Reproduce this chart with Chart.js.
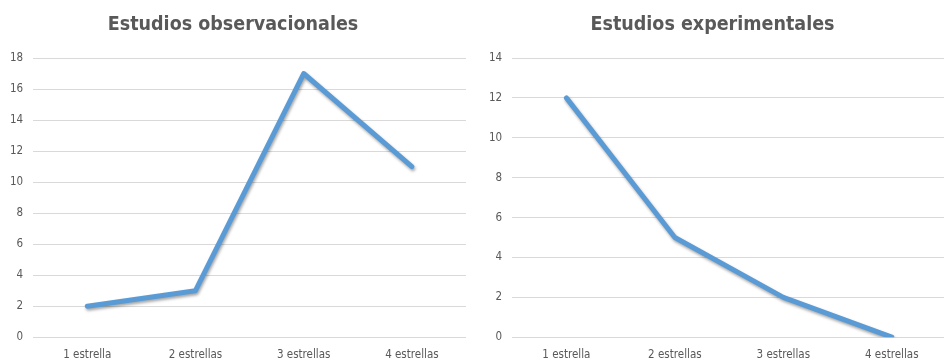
<!DOCTYPE html>
<html>
<head>
<meta charset="utf-8">
<script src="https://cdn.jsdelivr.net/npm/chart.js@4/dist/chart.umd.min.js"></script>
<style>
  html, body { margin: 0; padding: 0; background: #fff; overflow: hidden; width: 944px; height: 364px; }
  .box { position: absolute; top: 0; }
</style>
</head>
<body>
<div class="box" style="left:0"><canvas id="obsChart" width="480" height="373"></canvas></div>
<div class="box" style="left:472px"><canvas id="expChart" width="498" height="373"></canvas></div>
<script>
var categories = ["1 estrella", "2 estrellas", "3 estrellas", "4 estrellas"];
var observacionales = [2, 3, 17, 11];
var experimentales = [12, 5, 2, 0];

var lineColor = "#5B9BD5";
var textColor = "#595959";
var gridColor = "#d9d9d9";
var narrow = "'Liberation Sans Narrow', 'DejaVu Sans Condensed', sans-serif";

// soft drop shadow under the line, like the original
var shadowPlugin = {
    id: 'lineShadow',
    beforeDatasetsDraw: function (chart) {
        var ctx = chart.ctx;
        ctx.save();
        ctx.shadowColor = 'rgba(0,0,0,0.35)';
        ctx.shadowBlur = 3;
        ctx.shadowOffsetX = 1;
        ctx.shadowOffsetY = 2;
    },
    afterDatasetsDraw: function (chart) {
        chart.ctx.restore();
    }
};

function makeChart(id, title, values, yMax, pad) {
    var ctx = document.getElementById(id).getContext('2d');
    return new Chart(ctx, {
        type: 'line',
        data: {
            labels: categories,
            datasets: [{
                data: values,
                borderColor: lineColor,
                borderWidth: 5,
                borderCapStyle: 'round',
                borderJoinStyle: 'round',
                pointRadius: 0,
                tension: 0,
                fill: false
            }]
        },
        options: {
            responsive: false,
            animation: false,
            layout: { padding: pad },
            plugins: {
                legend: { display: false },
                tooltip: { enabled: false },
                title: {
                    display: true,
                    text: title,
                    color: textColor,
                    font: { family: narrow, size: 19.5, weight: 'bold' },
                    padding: { top: 13, bottom: 21.6 }
                }
            },
            scales: {
                x: {
                    offset: true,
                    grid: { display: false, drawTicks: false },
                    border: { display: false },
                    ticks: {
                        color: textColor,
                        padding: 11,
                        maxRotation: 0,
                        font: { family: narrow, size: 11.5 }
                    }
                },
                y: {
                    min: 0,
                    max: yMax,
                    grid: { color: gridColor, drawTicks: false },
                    border: { display: false },
                    ticks: {
                        stepSize: 2,
                        color: textColor,
                        padding: 10,
                        font: { family: narrow, size: 11.5 }
                    }
                }
            }
        },
        plugins: [shadowPlugin]
    });
}

makeChart('obsChart', 'Estudios observacionales', observacionales, 18, { left: 0, right: 14, top: 0, bottom: 0 });
makeChart('expChart', 'Estudios experimentales', experimentales, 14, { left: 7, right: 24, top: 0, bottom: 0 });
</script>
</body>
</html>
